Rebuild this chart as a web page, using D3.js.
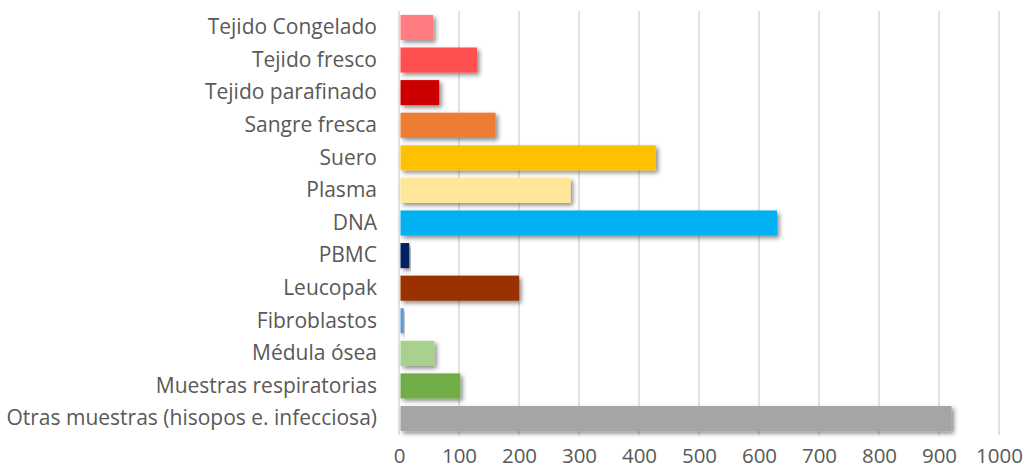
<!DOCTYPE html>
<html>
<head>
<meta charset="utf-8">
<script src="https://cdn.jsdelivr.net/npm/d3@7"></script>
<style>
    body { margin: 0; background: #fff; }
    .axis text { font-family: "Open Sans", Lato, sans-serif; fill: #595959; }
</style>
</head>
<body>
<div id="chart"></div>
<script>
// categorias de arriba hacia abajo
const categories = [
    'Tejido Congelado', 'Tejido fresco', 'Tejido parafinado', 'Sangre fresca',
    'Suero', 'Plasma', 'DNA', 'PBMC', 'Leucopak', 'Fibroblastos',
    'Médula ósea', 'Muestras respiratorias', 'Otras muestras (hisopos e. infecciosa)'
];
const values = [57, 130, 67, 161, 428, 286, 630, 17, 200, 8, 59, 102, 921];
const colors = [
    '#FF7C80', '#FF5050', '#CC0000', '#ED7D31', '#FFC000', '#FFE699', '#00B0F0',
    '#002060', '#993300', '#5B9BD5', '#A9D18E', '#70AD47', '#A5A5A5'
];
const xTicks = [0, 100, 200, 300, 400, 500, 600, 700, 800, 900, 1000];

const width = 1027;
const height = 468;
const padding = { top: 11, right: 28, bottom: 33, left: 399 };

const xScale = d3.scaleLinear()
    .domain([0, 1000])
    .range([0, 600]);

const yScale = d3.scaleBand()
    .domain(categories)
    .range([0, height - padding.top - padding.bottom])
    .paddingInner(0.23)
    .paddingOuter(0.12);

const svg = d3.select('#chart')
    .append('svg')
    .attr('width', width)
    .attr('height', height);

const defs = svg.append('defs');
defs.append('filter')
    .attr('id', 'shadow')
    .attr('x', '-10%').attr('y', '-30%')
    .attr('width', '130%').attr('height', '190%')
    .append('feDropShadow')
    .attr('dx', 2.5)
    .attr('dy', 2.5)
    .attr('stdDeviation', 2)
    .attr('flood-color', '#000')
    .attr('flood-opacity', 0.45);

const g = svg.append('g')
    .attr('transform', 'translate(' + padding.left + ',' + padding.top + ')');

const plotH = height - padding.top - padding.bottom;

// lineas de cuadricula
g.append('g')
    .selectAll('line')
    .data(xTicks)
    .enter()
    .append('line')
    .attr('x1', d => xScale(d))
    .attr('x2', d => xScale(d))
    .attr('y1', 0)
    .attr('y2', plotH)
    .attr('stroke', '#d9d9d9')
    .attr('stroke-width', 1.5);

g.append('g')
    .selectAll('rect')
    .data(values)
    .enter()
    .append('rect')
    .attr('x', 1.5)
    .attr('y', (d, i) => yScale(categories[i]))
    .attr('width', d => Math.max(xScale(d) - 1.5, 1))
    .attr('height', yScale.bandwidth())
    .attr('fill', (d, i) => colors[i])
    .attr('filter', 'url(#shadow)');

const yAxis = d3.axisLeft(yScale).tickSize(0).tickPadding(22);
g.append('g')
    .attr('class', 'axis')
    .call(yAxis)
    .call(s => s.select('.domain').remove())
    .selectAll('text')
    .attr('font-size', 21);

const xAxis = d3.axisBottom(xScale).tickValues(xTicks).tickFormat(d3.format('d')).tickSize(0).tickPadding(13);
g.append('g')
    .attr('class', 'axis')
    .attr('transform', 'translate(0,' + plotH + ')')
    .call(xAxis)
    .call(s => s.select('.domain').remove())
    .selectAll('text')
    .attr('font-size', 20.5);
</script>
</body>
</html>
